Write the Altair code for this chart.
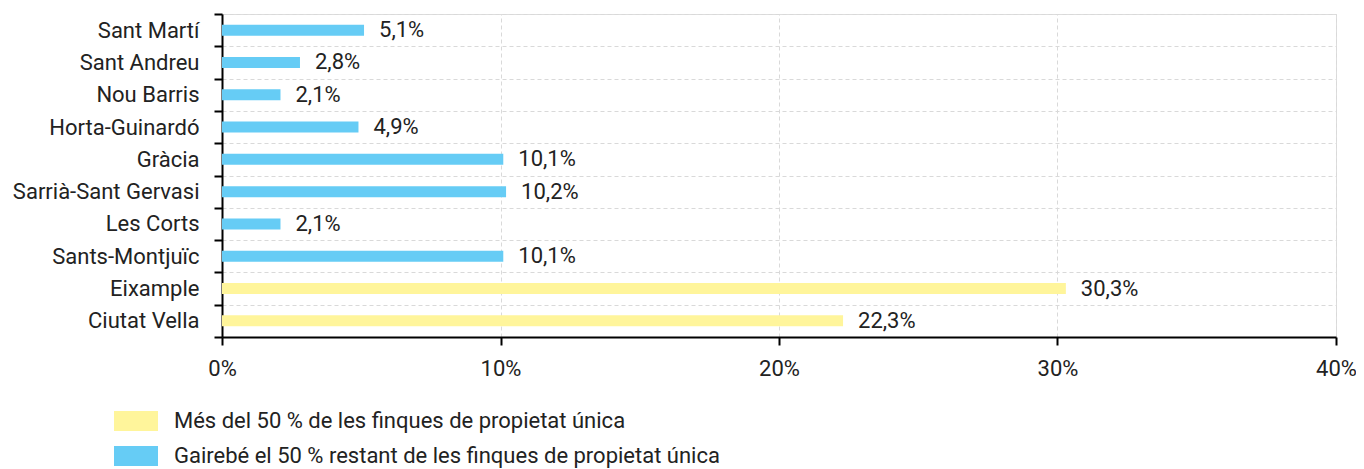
import altair as alt
import pandas as pd

districts = ["Sant Martí", "Sant Andreu", "Nou Barris", "Horta-Guinardó", "Gràcia",
             "Sarrià-Sant Gervasi", "Les Corts", "Sants-Montjuïc", "Eixample", "Ciutat Vella"]
values = [5.1, 2.8, 2.1, 4.9, 10.1, 10.2, 2.1, 10.1, 30.3, 22.3]
groups_names = ["Més del 50 % de les finques de propietat única",
                "Gairebé el 50 % restant de les finques de propietat única"]
group_of = [1, 1, 1, 1, 1, 1, 1, 1, 0, 0]
colors = ["#FFF59B", "#66CCF5"]
x_ticks = [0, 0.1, 0.2, 0.3, 0.4]

df = pd.DataFrame({
    "district": districts,
    "value": [v / 100 for v in values],
    "label": [f"{v:.1f}".replace(".", ",") + "%" for v in values],
    "group": [groups_names[g] for g in group_of],
})

FONT = "Roboto"

y_enc = alt.Y("district:N", sort=districts, title=None,
              scale=alt.Scale(paddingInner=0, paddingOuter=0),
              axis=alt.Axis(tickBand="extent", grid=True, gridDash=[4, 3], gridColor="#D9D9D9",
                            gridWidth=1, domainColor="#000000", domainWidth=2, tickColor="#000000",
                            tickWidth=2, tickSize=8, labelPadding=15, labelFontSize=22,
                            labelColor="#222222", labelFont=FONT, labelLimit=400))
x_enc = alt.X("value:Q", title=None,
              scale=alt.Scale(domain=[0, 0.4], nice=False),
              axis=alt.Axis(values=x_ticks, format=".0%", grid=True, gridDash=[4, 3],
                            gridColor="#D9D9D9", gridWidth=1, domainColor="#000000", domainWidth=2,
                            tickColor="#000000", tickWidth=2, tickSize=8, labelPadding=13,
                            labelFontSize=22, labelColor="#222222", labelFont=FONT,
                            labelFlush=False))

bars = alt.Chart(df).mark_bar(size=11).encode(
    y=y_enc,
    x=x_enc,
    color=alt.Color("group:N", sort=groups_names, title=None,
                    scale=alt.Scale(domain=groups_names, range=colors),
                    legend=alt.Legend(orient="none", legendX=-97, legendY=396, direction="vertical",
                                      symbolType="M-2.2,-1H2.2V1H-2.2Z", symbolSize=400,
                                      symbolStrokeWidth=0, labelOffset=27, labelFontSize=22,
                                      labelFont=FONT, labelColor="#222222", rowPadding=13,
                                      labelLimit=800)),
)

texts = alt.Chart(df).mark_text(align="left", baseline="middle", dx=15, fontSize=22,
                                font=FONT, color="#222222").encode(
    y=alt.Y("district:N", sort=districts),
    x="value:Q",
    text="label:N",
)

chart = alt.layer(bars, texts).properties(
    width=1114, height=323,
    padding={"left": 214, "top": 6, "right": 20, "bottom": 132},
    autosize=alt.AutoSizeParams(type="none"),
).configure_view(stroke=None).configure(font=FONT)

chart.save("out.html", embed_options={"renderer": "svg", "actions": False})
